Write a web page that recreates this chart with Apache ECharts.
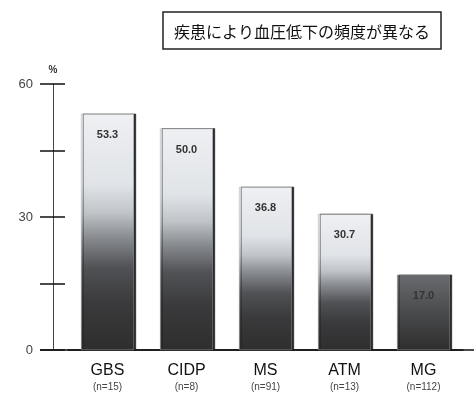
<!DOCTYPE html>
<html><head><meta charset="utf-8">
<script src="https://cdn.jsdelivr.net/npm/echarts@6/dist/echarts.min.js"></script>
<style>html,body{margin:0;padding:0;background:#fff}#c{width:474px;height:400px}</style>
</head><body><div id="c"></div>
<script>
const categories = ['GBS', 'CIDP', 'MS', 'ATM', 'MG'];
const sampleSizes = ['(n=15)', '(n=8)', '(n=91)', '(n=13)', '(n=112)'];
const values = [53.3, 50.0, 36.8, 30.7, 17.0];
const yTicks = [0, 15, 30, 45, 60];
const yLabels = ['0', '30', '60'];
const titleText = '疾患により血圧低下の頻度が異なる';

const chart = echarts.init(document.getElementById('c'));
function grad(v) {
  const stops = v > 25 ? [
    {offset: 0, color: '#eef0f3'},
    {offset: 0.3, color: '#e0e3e7'},
    {offset: 0.42, color: '#c0c3c8'},
    {offset: 0.52, color: '#8a8d92'},
    {offset: 0.65, color: '#505255'},
    {offset: 0.8, color: '#3a3a3c'},
    {offset: 1, color: '#2e2e2e'}
  ] : [
    {offset: 0, color: '#6a6b6e'},
    {offset: 0.5, color: '#4a4b4d'},
    {offset: 1, color: '#2e2e2e'}
  ];
  return new echarts.graphic.LinearGradient(0, 0, 0, 1, stops);
}
const yAxisCommon = {
  type: 'value', min: 0, max: 60, interval: 15, position: 'left', offset: 15,
  splitLine: {show: false}
};
const boxGraphic = {
  type: 'rect', shape: {x: 163, y: 12, width: 278, height: 37},
  style: {fill: 'none', stroke: '#222', lineWidth: 1.5}
};
chart.setOption({
  animation: false,
  title: {
    text: titleText, left: 297, top: 19, textAlign: 'center',
    textStyle: {fontFamily: 'Noto Sans CJK JP', fontSize: 16, fontWeight: 'normal', color: '#111'}
  },
  graphic: [boxGraphic],
  grid: {left: 68, right: 11, top: 84, bottom: 50},
  xAxis: {
    type: 'category', data: categories,
    axisLine: {lineStyle: {color: '#111', width: 1.5}},
    axisTick: {show: false},
    axisLabel: {
      margin: 12, interval: 0,
      formatter: (v, i) => '{a|' + v + '}\n{b|' + sampleSizes[i] + '}',
      rich: {
        a: {fontFamily: 'Liberation Sans', fontSize: 16, color: '#111', lineHeight: 18},
        b: {fontFamily: 'Liberation Sans', fontSize: 10, color: '#444', lineHeight: 14}
      }
    }
  },
  yAxis: [
    Object.assign({}, yAxisCommon, {
      name: '%', nameGap: 9,
      nameTextStyle: {fontFamily: 'Liberation Sans', fontSize: 10, color: '#333', fontWeight: 'bold', align: 'center'},
      axisLine: {show: true, lineStyle: {color: '#444', width: 1}},
      axisTick: {show: true, length: 13, lineStyle: {color: '#111', width: 1.5}},
      axisLabel: {
        margin: 20, fontFamily: 'Liberation Sans', fontSize: 13, color: '#444',
        formatter: v => yLabels.indexOf(String(v)) >= 0 ? String(v) : ''
      }
    }),
    Object.assign({}, yAxisCommon, {
      axisLine: {show: false},
      axisTick: {show: true, inside: true, length: 12, lineStyle: {color: '#111', width: 1.5}},
      axisLabel: {show: false}
    })
  ],
  series: [{
    type: 'bar', barWidth: 53, yAxisIndex: 0,
    data: values.map(v => ({value: v, itemStyle: {color: grad(v)}})),
    itemStyle: {shadowColor: '#1a1a1a', shadowOffsetX: 2, shadowBlur: 0, borderColor: '#aaa', borderWidth: 0.5},
    label: {
      show: true, position: 'insideTop', distance: 16,
      formatter: p => p.value.toFixed(1),
      fontFamily: 'Liberation Sans', fontSize: 11, fontWeight: 'bold', color: '#333'
    }
  }]
});
const y0 = chart.convertToPixel({yAxisIndex: 0}, 0);
chart.setOption({
  graphic: [boxGraphic, {
    type: 'line', shape: {x1: 40, y1: y0, x2: 474, y2: y0},
    style: {stroke: '#111', lineWidth: 1.5}
  }]
});
</script></body></html>
